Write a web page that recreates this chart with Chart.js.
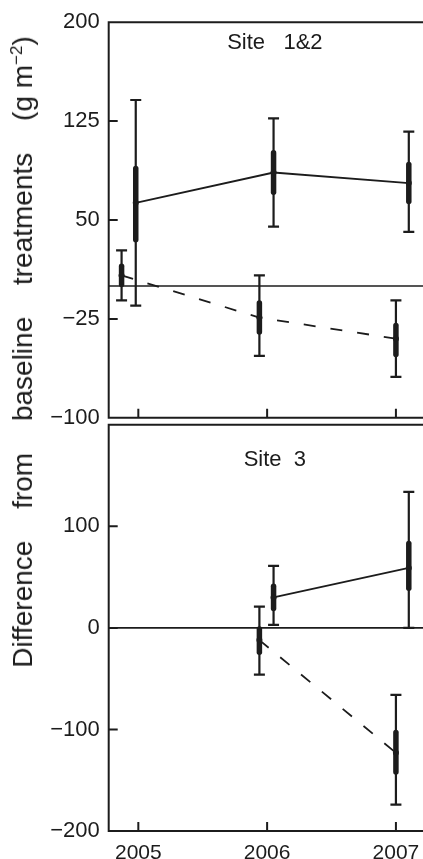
<!DOCTYPE html>
<html>
<head>
<meta charset="utf-8">
<script src="https://cdn.jsdelivr.net/npm/chart.js@4.4.1/dist/chart.umd.min.js"></script>
<style>
  html, body { margin: 0; padding: 0; background: #fff; overflow: hidden; }
  #wrap { position: relative; width: 423px; height: 859px; overflow: hidden; }
  #topBox { position: absolute; left: 0; top: 0; width: 460px; height: 440px; }
  #botBox { position: absolute; left: 0; top: 400px; width: 460px; height: 459px; }
  #ylab {
    position: absolute; left: 23px; top: 352px;
    transform: translate(-50%, -50%) rotate(-90deg);
    font: 28px "Liberation Sans", Arial, sans-serif; color: #1c1c1c;
    white-space: pre; line-height: 1; word-spacing: 24px;
  }
  #ylab .unit { word-spacing: 0; }
  #ylab sup { font-size: 17px; vertical-align: 10px; line-height: 0; }
</style>
</head>
<body>
<div id="wrap">
  <div id="topBox"><canvas id="topChart"></canvas></div>
  <div id="botBox"><canvas id="botChart"></canvas></div>
  <div id="ylab">Difference from baseline treatments <span class="unit">(g m<sup>−2</sup>)</span></div>
</div>
<script>
var ink = '#1c1c1c';
var font = '"Liberation Sans", Arial, sans-serif';

// x axis, decimal years
var xMin = 2004.77, xMax = 2007.35;
var yearTicks = [2005, 2006, 2007];

// Site 1&2
var topTicks = [-100, -25, 50, 125, 200];
var s12TrtX = [2004.98, 2006.05, 2007.10];
var s12TrtY = [63, 86, 78];
var s12TrtSeLo = [35, 71, 64];
var s12TrtSeHi = [89, 101, 92];
var s12TrtCiLo = [-15, 45, 41];
var s12TrtCiHi = [141, 127, 117];

var s12CtlX = [2004.87, 2005.94, 2007.00];
var s12CtlY = [8, -24, -40];
var s12CtlSeLo = [1, -35, -52];
var s12CtlSeHi = [15, -13, -30];
var s12CtlCiLo = [-11, -53, -69];
var s12CtlCiHi = [27, 8, -11];

// Site 3
var botTicks = [-200, -100, 0, 100];
var s3TrtX = [2006.05, 2007.10];
var s3TrtY = [30, 59];
var s3TrtSeLo = [19, 39];
var s3TrtSeHi = [41, 83];
var s3TrtCiLo = [3, 0];
var s3TrtCiHi = [61, 134];

var s3CtlX = [2005.94, 2007.00];
var s3CtlY = [-12, -123];
var s3CtlSeLo = [-24, -142];
var s3CtlSeHi = [-1, -103];
var s3CtlCiLo = [-46, -174];
var s3CtlCiHi = [21, -66];

function series(xs, ys, seLo, seHi, ciLo, ciHi, dashed) {
  return {
    data: xs.map(function (x, i) { return { x: x, y: ys[i] }; }),
    seLo: seLo, seHi: seHi, ciLo: ciLo, ciHi: ciHi,
    borderColor: ink,
    borderWidth: 1.8,
    borderDash: dashed ? [12, 15] : [],
    pointRadius: 0,
    tension: 0,
    fill: false
  };
}

function minus(v) {
  return v < 0 ? '\u2212' + Math.abs(v) : String(v);
}

// frame, inward ticks, zero line, error bars and panel title
var panelDecor = {
  id: 'panelDecor',
  beforeDatasetsDraw: function (chart) {
    var ctx = chart.ctx, a = chart.chartArea, y = chart.scales.y;
    var y0 = y.getPixelForValue(0);
    ctx.save();
    ctx.strokeStyle = ink;
    ctx.lineWidth = 1.6;
    ctx.beginPath();
    ctx.moveTo(a.left, y0);
    ctx.lineTo(a.right, y0);
    ctx.stroke();
    ctx.restore();
  },
  afterDatasetsDraw: function (chart) {
    var ctx = chart.ctx, x = chart.scales.x, y = chart.scales.y;
    ctx.save();
    ctx.strokeStyle = ink;
    ctx.fillStyle = ink;
    chart.data.datasets.forEach(function (ds) {
      ds.data.forEach(function (p, j) {
        var px = x.getPixelForValue(p.x);
        var lo = y.getPixelForValue(ds.ciLo[j]);
        var hi = y.getPixelForValue(ds.ciHi[j]);
        ctx.lineCap = 'butt';
        ctx.lineWidth = 2.2;
        ctx.beginPath();
        ctx.moveTo(px, lo); ctx.lineTo(px, hi);
        ctx.moveTo(px - 5.5, lo); ctx.lineTo(px + 5.5, lo);
        ctx.moveTo(px - 5.5, hi); ctx.lineTo(px + 5.5, hi);
        ctx.stroke();
        ctx.lineWidth = 5.5;
        ctx.lineCap = 'round';
        ctx.beginPath();
        ctx.moveTo(px, y.getPixelForValue(ds.seLo[j]));
        ctx.lineTo(px, y.getPixelForValue(ds.seHi[j]));
        ctx.stroke();
        ctx.beginPath();
        ctx.arc(px, y.getPixelForValue(p.y), 3, 0, Math.PI * 2);
        ctx.fill();
      });
    });
    ctx.restore();
  },
  afterDraw: function (chart, args, opts) {
    var ctx = chart.ctx, a = chart.chartArea, x = chart.scales.x, y = chart.scales.y;
    ctx.save();
    ctx.strokeStyle = ink;
    ctx.lineWidth = 2;
    ctx.lineCap = 'butt';
    ctx.beginPath();
    ctx.moveTo(a.right + 5, a.top);
    ctx.lineTo(a.left, a.top);
    ctx.lineTo(a.left, a.bottom);
    ctx.lineTo(a.right + 5, a.bottom);
    opts.yTicks.forEach(function (v) {
      var py = y.getPixelForValue(v);
      ctx.moveTo(a.left, py); ctx.lineTo(a.left + 9, py);
    });
    yearTicks.forEach(function (v) {
      var px = x.getPixelForValue(v);
      ctx.moveTo(px, a.bottom); ctx.lineTo(px, a.bottom - 9);
    });
    ctx.stroke();
    ctx.fillStyle = ink;
    ctx.font = '22px ' + font;
    ctx.textAlign = 'center';
    ctx.textBaseline = 'middle';
    ctx.fillText(opts.title, x.getPixelForValue(opts.titleAt), a.top + opts.titleDy);
    ctx.restore();
  }
};

function makePanel(id, datasets, yMin, yMax, yTicks, title, titleDy, showX, pad) {
  return new Chart(document.getElementById(id), {
    type: 'line',
    data: { datasets: datasets },
    plugins: [panelDecor],
    options: {
      responsive: true,
      maintainAspectRatio: false,
      animation: false,
      layout: { padding: pad },
      plugins: {
        legend: { display: false },
        tooltip: { enabled: false },
        panelDecor: { yTicks: yTicks, title: title, titleAt: 2006.06, titleDy: titleDy }
      },
      scales: {
        x: {
          type: 'linear',
          min: xMin,
          max: xMax,
          display: showX,
          grid: { display: false, drawTicks: false },
          border: { display: false },
          afterBuildTicks: function (s) { s.ticks = yearTicks.map(function (v) { return { value: v }; }); },
          afterFit: function (s) { s.height = showX ? 28 : 0; },
          ticks: {
            color: ink,
            padding: 10,
            font: { family: font, size: 21 },
            callback: function (v) { return String(v); }
          }
        },
        y: {
          type: 'linear',
          min: yMin,
          max: yMax,
          grid: { display: false, drawTicks: false },
          border: { display: false },
          afterBuildTicks: function (s) { s.ticks = yTicks.map(function (v) { return { value: v }; }); },
          afterFit: function (s) { s.width = 108.7; },
          ticks: {
            color: ink,
            padding: 9,
            font: { family: font, size: 22 },
            callback: function (v) { return minus(v); }
          }
        }
      }
    }
  });
}

makePanel('topChart', [
  series(s12TrtX, s12TrtY, s12TrtSeLo, s12TrtSeHi, s12TrtCiLo, s12TrtCiHi, false),
  series(s12CtlX, s12CtlY, s12CtlSeLo, s12CtlSeHi, s12CtlCiLo, s12CtlCiHi, true)
], -100, 200, topTicks, 'Site   1&2', 20.5, false, { left: 0, top: 19, right: 19, bottom: 16 });

makePanel('botChart', [
  series(s3TrtX, s3TrtY, s3TrtSeLo, s3TrtSeHi, s3TrtCiLo, s3TrtCiHi, false),
  series(s3CtlX, s3CtlY, s3CtlSeLo, s3CtlSeHi, s3CtlCiLo, s3CtlCiHi, true)
], -200, 200, botTicks, 'Site  3', 34.7, true, { left: 0, top: 24.8, right: 19, bottom: 0 });
</script>
</body>
</html>
